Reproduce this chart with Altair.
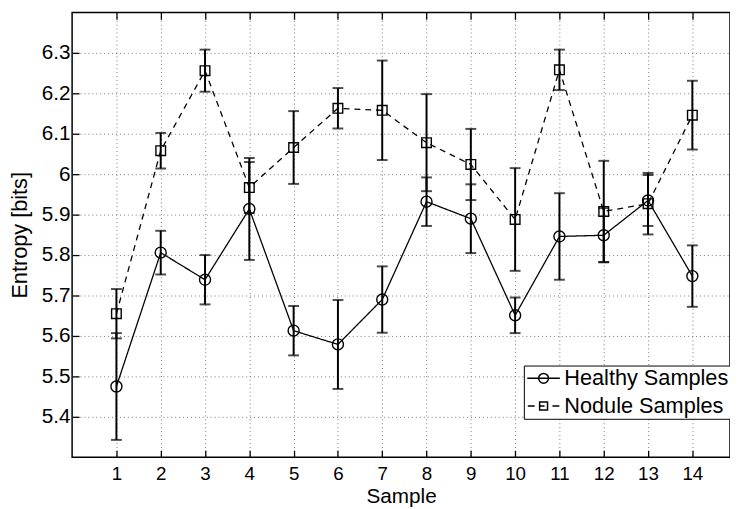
import altair as alt
import pandas as pd

samples = list(range(1, 15))
healthy_mean = [5.475, 5.806, 5.739, 5.914, 5.613, 5.579, 5.690, 5.932, 5.890, 5.651, 5.846, 5.849, 5.935, 5.748]
healthy_err = [0.132, 0.054, 0.061, 0.126, 0.061, 0.110, 0.082, 0.060, 0.085, 0.044, 0.107, 0.067, 0.063, 0.076]
nodule_mean = [5.655, 6.058, 6.256, 5.967, 6.066, 6.163, 6.158, 6.078, 6.024, 5.888, 6.258, 5.908, 5.927, 6.146]
nodule_err = [0.061, 0.044, 0.052, 0.063, 0.090, 0.050, 0.123, 0.120, 0.088, 0.127, 0.050, 0.125, 0.076, 0.085]
series_names = ["Healthy Samples", "Nodule Samples"]
y_ticks = [5.4, 5.5, 5.6, 5.7, 5.8, 5.9, 6.0, 6.1, 6.2, 6.3]

rows = []
for name, means, errs in [(series_names[0], healthy_mean, healthy_err),
                          (series_names[1], nodule_mean, nodule_err)]:
    for s, m, e in zip(samples, means, errs):
        rows.append({"sample": s, "series": name, "mean": m, "lo": m - e, "hi": m + e})
df = pd.DataFrame(rows)

FONT = "Liberation Sans"
xscale = alt.Scale(domain=[0, 14.85], nice=False, zero=False)
yscale = alt.Scale(domain=[5.3, 6.4], nice=False, zero=False)
GRID = dict(grid=True, gridDash=[1, 3], gridColor="#777777", gridWidth=1)

# legend symbols: line + marker drawn as custom paths
path_h = "M-1.65,0L1.65,0M0.5,0A0.5,0.5,0,1,1,-0.5,0A0.5,0.5,0,1,1,0.5,0Z"
path_n = ("M-1.6,0L-0.9,0M0.9,0L1.6,0M-0.4,-0.4L0.4,-0.4L0.4,0.4L-0.4,0.4Z"
          "M-0.4,0L0.1,0")

base = alt.Chart(df)

x_main = alt.X("sample:Q", scale=xscale, title="Sample",
               axis=alt.Axis(orient="bottom", values=samples, format="d", offset=-7,
                             tickSize=7, tickColor="black", tickWidth=1.3, domain=False,
                             labelFontSize=19, labelPadding=8, labelColor="black",
                             labelFont=FONT, titleFont=FONT, titleFontSize=21,
                             titleFontWeight="normal", titleColor="black",
                             titleBaseline="alphabetic", titleY=53, **GRID))
y_main = alt.Y("mean:Q", scale=yscale, title="Entropy [bits]",
               axis=alt.Axis(orient="left", values=y_ticks, format="~g", offset=-7,
                             tickSize=7, tickColor="black", tickWidth=1.3, domain=False,
                             labelFontSize=21, labelPadding=2, labelColor="black",
                             labelFont=FONT, titleFont=FONT, titleFontSize=22,
                             titleFontWeight="normal", titleColor="black",
                             titleBaseline="alphabetic", titleX=-53, **GRID))

lines = base.mark_line(color="black", strokeWidth=1.3).encode(
    x=x_main,
    y=y_main,
    strokeDash=alt.StrokeDash("series:N",
                              scale=alt.Scale(domain=series_names, range=[[1, 0], [6, 5]]),
                              legend=None),
    detail="series:N",
)

x_top = alt.X("sample:Q", scale=xscale,
              axis=alt.Axis(orient="top", values=samples, offset=-7, tickSize=7,
                            tickColor="black", tickWidth=1.3, labels=False,
                            domain=False, grid=False, title=None))

err_rule = base.mark_rule(color="black", strokeWidth=2).encode(
    x=x_top,
    y=alt.Y("lo:Q", scale=yscale, axis=None),
    y2="hi:Q",
)

x_none = alt.X("sample:Q", scale=xscale, axis=None)

cap_lo = base.mark_tick(color="black", orient="horizontal", size=11, thickness=2).encode(
    x=x_none, y=alt.Y("lo:Q", scale=yscale, axis=None))
cap_hi = base.mark_tick(color="black", orient="horizontal", size=11, thickness=2).encode(
    x=x_none, y=alt.Y("hi:Q", scale=yscale, axis=None))

pts_h = base.transform_filter(alt.datum.series == series_names[0]).mark_point(
    shape="circle", size=125, filled=False, color="black", strokeWidth=1.4, opacity=1
).encode(x=x_none, y=alt.Y("mean:Q", scale=yscale, axis=None))

pts_n = base.transform_filter(alt.datum.series == series_names[1]).mark_point(
    shape="square", size=95, filled=False, color="black", strokeWidth=1.4, opacity=1
).encode(x=x_none, y=alt.Y("mean:Q", scale=yscale, axis=None))

legend_layer = base.mark_point(opacity=0).encode(
    x=x_none,
    y=alt.Y("mean:Q", scale=yscale, axis=None),
    shape=alt.Shape("series:N",
                    scale=alt.Scale(domain=series_names, range=[path_h, path_n]),
                    legend=alt.Legend(orient="none", legendX=458, legendY=358, title=None,
                                      symbolSize=400, symbolStrokeWidth=1.5,
                                      symbolStrokeColor="black", symbolFillColor="transparent",
                                      symbolOpacity=1, labelFont=FONT, labelFontSize=22,
                                      labelColor="black", labelOffset=10, padding=2,
                                      symbolOffset=7, rowPadding=6, strokeColor="black",
                                      fillColor="white", labelLimit=0)),
)

chart = alt.layer(
    lines, err_rule, cap_lo, cap_hi, pts_h, pts_n, legend_layer
).resolve_axis(x="independent", y="independent").resolve_scale(shape="independent").properties(
    width=667, height=451,
    autosize=alt.AutoSizeParams(type="none"),
    padding={"left": 65, "top": 1, "right": 0, "bottom": 52},
    background="white",
).configure_view(stroke="black", strokeWidth=1.5)

chart.save("out.html", embed_options={"renderer": "svg", "actions": False})
